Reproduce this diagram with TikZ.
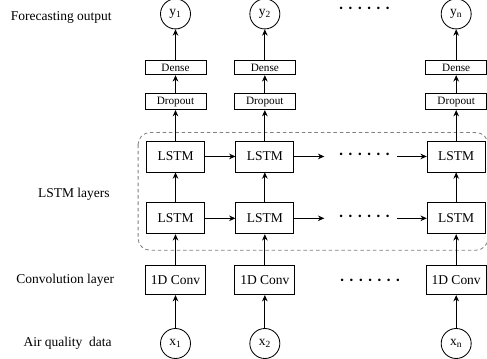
\documentclass[tikz,border=0pt]{standalone}
\usepackage{fontspec}
\setmainfont{Liberation Serif}
\usepackage{tikz}
\usetikzlibrary{shapes.geometric, arrows, arrows.meta, positioning}

\newcommand{\dotgap}{\hspace{2.95pt}}
\newcommand{\sixdots}{·\dotgap·\dotgap·\dotgap·\dotgap·\dotgap·}
\newcommand{\sevendots}{·\dotgap·\dotgap·\dotgap·\dotgap·\dotgap·\dotgap·}

\tikzstyle{lstmbox} = [rectangle, draw, minimum width=1.45cm, minimum height=0.775cm, inner sep=0pt, font=\fontsize{9.6}{11}\selectfont]
\tikzstyle{convbox} = [rectangle, draw, minimum width=1.5cm, minimum height=0.725cm, inner sep=0pt, font=\fontsize{9.6}{11}\selectfont]
\tikzstyle{dropbox} = [rectangle, draw, minimum width=1.525cm, minimum height=0.4cm, inner sep=0pt, font=\fontsize{8}{9}\selectfont]
\tikzstyle{densebox} = [rectangle, draw, minimum width=1.525cm, minimum height=0.35cm, inner sep=0pt, font=\fontsize{8}{9}\selectfont]
\tikzstyle{ioball} = [circle, draw, minimum size=0.75cm, inner sep=0pt, font=\fontsize{9.6}{11}\selectfont]
\tikzstyle{sidelabel} = [inner sep=0pt, font=\fontsize{9.6}{11}\selectfont]
\tikzstyle{dotrow} = [inner sep=0pt, font=\bfseries\fontsize{11}{12}\selectfont]
\tikzstyle{arrow} = [-{Stealth[length=4.5pt, width=4pt]}, semithick]

\begin{document}
\begin{tikzpicture}[node distance=0.775cm and 1.4625cm, semithick]
\useasboundingbox (0,0) rectangle (12.175,8.975);

% Input row
\node[ioball] (x1) at (4.3875,0.3875) {x\textsubscript{1}};
\node[ioball, right=1.4625cm of x1] (x2) {x\textsubscript{2}};
\node[ioball, right=4.0125cm of x2] (xn) {x\textsubscript{n}};

% Convolution layer
\node[convbox, above=0.825cm of x1] (conv1) {1D Conv};
\node[convbox, above=0.825cm of x2] (conv2) {1D Conv};
\node[convbox, above=0.825cm of xn] (convn) {1D Conv};
\node[dotrow, right=1.1cm of conv2, yshift=-0.06cm] (dotsC) {\sevendots};

% LSTM layers
\node[lstmbox, above=0.775cm of conv1] (lstmA1) {LSTM};
\node[lstmbox, above=0.775cm of conv2] (lstmA2) {LSTM};
\node[lstmbox, above=0.775cm of convn] (lstmAn) {LSTM};
\node[lstmbox, above=0.75cm of lstmA1] (lstmB1) {LSTM};
\node[lstmbox, above=0.75cm of lstmA2] (lstmB2) {LSTM};
\node[lstmbox, above=0.75cm of lstmAn] (lstmBn) {LSTM};

\coordinate[right=0.75cm of lstmA2] (outA);
\coordinate[left=0.75cm of lstmAn] (inA);
\coordinate[right=0.75cm of lstmB2] (outB);
\coordinate[left=0.75cm of lstmBn] (inB);
\node[dotrow, right=0.35cm of outA] (dotsA) {\sixdots};
\node[dotrow, right=0.35cm of outB] (dotsB) {\sixdots};

% Dropout and dense
\node[dropbox, above=0.7625cm of lstmB1] (drop1) {Dropout};
\node[dropbox, above=0.7625cm of lstmB2] (drop2) {Dropout};
\node[dropbox, above=0.7625cm of lstmBn] (dropn) {Dropout};
\node[densebox, above=0.45cm of drop1] (dense1) {Dense};
\node[densebox, above=0.45cm of drop2] (dense2) {Dense};
\node[densebox, above=0.45cm of dropn] (densen) {Dense};

% Output row
\node[ioball, above=0.775cm of dense1] (y1) {y\textsubscript{1}};
\node[ioball, above=0.775cm of dense2] (y2) {y\textsubscript{2}};
\node[ioball, above=0.775cm of densen] (yn) {y\textsubscript{n}};
\node[dotrow, right=1.45cm of y2, yshift=0.1cm] (dotsY) {\sixdots};

% Side labels
\node[sidelabel, left=1.2cm of y1, yshift=-0.1cm] (outlabel) {Forecasting output};
\node[sidelabel, left=0.9cm of lstmA1, yshift=0.6cm] (lstmlabel) {LSTM layers};
\node[sidelabel, left=0.7625cm of conv1] (convlabel) {Convolution layer};
\node[sidelabel, left=1.2cm of x1] (inlabel) {Air quality\ \ data};

% Dashed frame round the LSTM layers
\draw[gray, dash pattern=on 2.5pt off 2pt, rounded corners=0.3cm] ([shift={(-0.2,0.2)}]lstmB1.north west) rectangle ([shift={(0.06,-0.4)}]lstmAn.south east);

% Vertical arrows
\draw[arrow] (x1) -- (conv1);
\draw[arrow] (x2) -- (conv2);
\draw[arrow] (xn) -- (convn);
\draw[arrow] (conv1) -- (lstmA1);
\draw[arrow] (conv2) -- (lstmA2);
\draw[arrow] (convn) -- (lstmAn);
\draw[arrow] (lstmA1) -- (lstmB1);
\draw[arrow] (lstmA2) -- (lstmB2);
\draw[arrow] (lstmAn) -- (lstmBn);
\draw[arrow] (lstmB1) -- (drop1);
\draw[arrow] (lstmB2) -- (drop2);
\draw[arrow] (lstmBn) -- (dropn);
\draw[arrow] (drop1) -- (dense1);
\draw[arrow] (drop2) -- (dense2);
\draw[arrow] (dropn) -- (densen);
\draw[arrow] (dense1) -- (y1);
\draw[arrow] (dense2) -- (y2);
\draw[arrow] (densen) -- (yn);

% Horizontal arrows
\draw[arrow] (lstmA1) -- (lstmA2);
\draw[arrow] (lstmA2) -- (outA);
\draw[arrow] (inA) -- (lstmAn);
\draw[arrow] (lstmB1) -- (lstmB2);
\draw[arrow] (lstmB2) -- (outB);
\draw[arrow] (inB) -- (lstmBn);

\end{tikzpicture}
\end{document}
